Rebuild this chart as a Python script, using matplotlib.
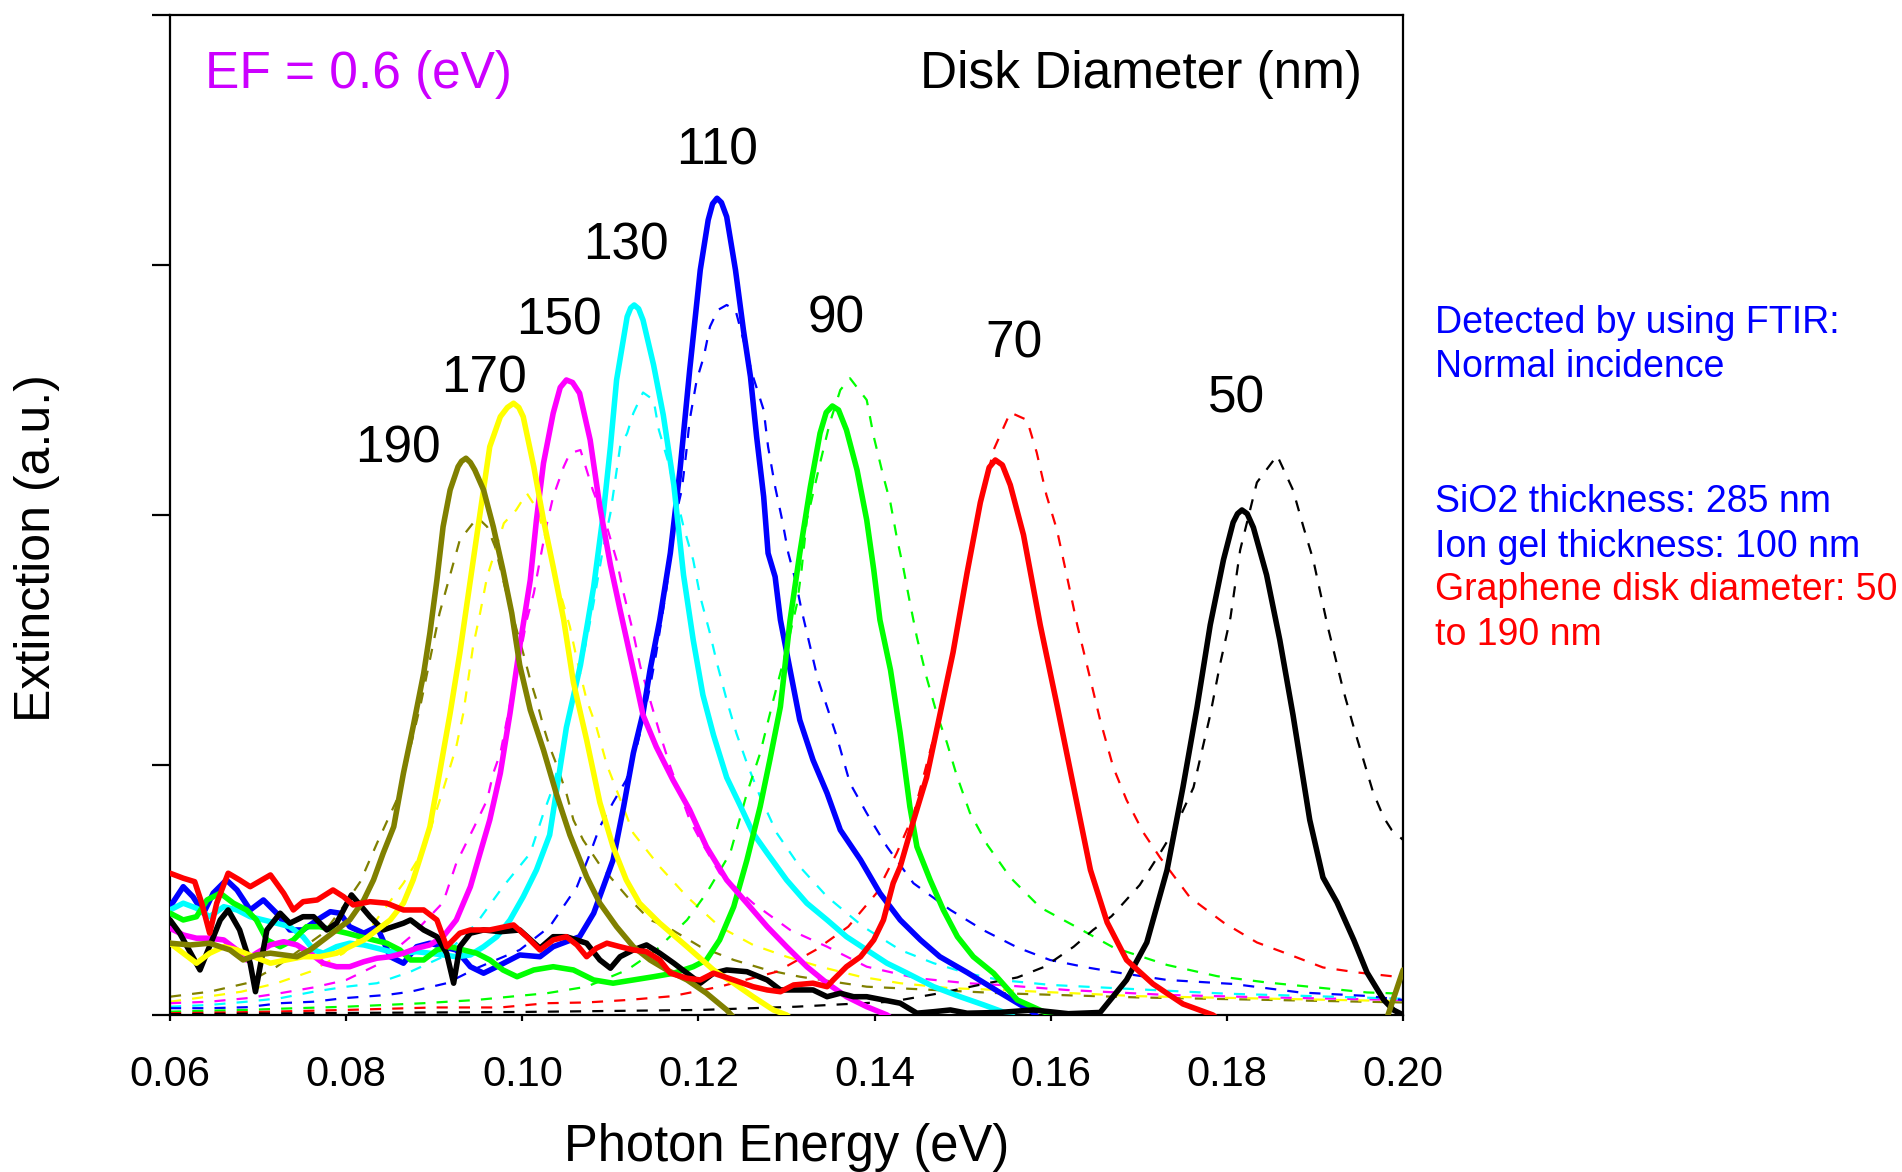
import matplotlib
matplotlib.use("Agg")
import matplotlib.pyplot as plt
import numpy as np

plt.rcParams['font.family'] = ['Liberation Sans', 'DejaVu Sans']

# disk diameters (nm), line colours, label positions (energy, baseline height)
diameters = ['190', '170', '150', '130', '110', '90', '70', '50']
colors = ['#808000', '#FFFF00', '#FF00FF', '#00FFFF', '#0000FF', '#00FF00', '#FF0000', '#000000']
label_e = [0.0859, 0.0957, 0.1042, 0.1118, 0.1221, 0.1356, 0.1558, 0.1811]
label_v = [2.21, 2.49, 2.72, 3.02, 3.40, 2.73, 2.63, 2.41]

# measured spectra (solid)
e_190 = [0.0600, 0.0623, 0.0645, 0.0668, 0.0683, 0.0698, 0.0714, 0.0729, 0.0744, 0.0759, 0.0774, 0.0789, 0.0804, 0.0820, 0.0831, 0.0842, 0.0854, 0.0865, 0.0876, 0.0888, 0.0895, 0.0903, 0.0910, 0.0918, 0.0927, 0.0931, 0.0936, 0.0941, 0.0946, 0.0956, 0.0967, 0.0978, 0.0988, 0.0997, 0.1009, 0.1024, 0.1039, 0.1054, 0.1073, 0.1088, 0.1107, 0.1126, 0.1145, 0.1164, 0.1187, 0.1209, 0.1232, 0.1245, 0.1980, 0.2000]
v_190 = [0.287, 0.280, 0.287, 0.260, 0.220, 0.240, 0.247, 0.240, 0.233, 0.260, 0.300, 0.340, 0.380, 0.460, 0.540, 0.647, 0.753, 0.967, 1.153, 1.367, 1.527, 1.740, 1.953, 2.100, 2.193, 2.215, 2.227, 2.210, 2.180, 2.100, 1.953, 1.780, 1.607, 1.400, 1.220, 1.060, 0.880, 0.720, 0.553, 0.447, 0.353, 0.273, 0.220, 0.180, 0.140, 0.087, 0.020, -0.030, -0.030, 0.180]

e_170 = [0.0600, 0.0615, 0.0630, 0.0645, 0.0661, 0.0676, 0.0695, 0.0714, 0.0732, 0.0751, 0.0770, 0.0789, 0.0804, 0.0820, 0.0835, 0.0850, 0.0865, 0.0876, 0.0888, 0.0895, 0.0906, 0.0918, 0.0929, 0.0941, 0.0952, 0.0963, 0.0975, 0.0983, 0.0990, 0.0996, 0.1001, 0.1013, 0.1024, 0.1035, 0.1047, 0.1058, 0.1073, 0.1088, 0.1103, 0.1118, 0.1133, 0.1156, 0.1187, 0.1217, 0.1240, 0.1262, 0.1285, 0.1300, 0.1310]
v_170 = [0.287, 0.247, 0.207, 0.247, 0.273, 0.260, 0.233, 0.207, 0.220, 0.233, 0.233, 0.247, 0.273, 0.300, 0.340, 0.380, 0.447, 0.540, 0.673, 0.753, 0.967, 1.207, 1.447, 1.740, 2.007, 2.273, 2.393, 2.430, 2.447, 2.430, 2.393, 2.193, 1.980, 1.793, 1.580, 1.330, 1.100, 0.850, 0.673, 0.540, 0.447, 0.367, 0.273, 0.180, 0.127, 0.073, 0.020, 0.000, -0.030]

e_150 = [0.0600, 0.0615, 0.0630, 0.0645, 0.0661, 0.0676, 0.0687, 0.0698, 0.0714, 0.0729, 0.0744, 0.0759, 0.0774, 0.0789, 0.0804, 0.0820, 0.0835, 0.0850, 0.0865, 0.0880, 0.0895, 0.0910, 0.0925, 0.0941, 0.0952, 0.0963, 0.0975, 0.0986, 0.0997, 0.1009, 0.1016, 0.1024, 0.1035, 0.1043, 0.1050, 0.1057, 0.1065, 0.1077, 0.1088, 0.1100, 0.1111, 0.1126, 0.1137, 0.1152, 0.1171, 0.1190, 0.1209, 0.1232, 0.1255, 0.1278, 0.1300, 0.1323, 0.1346, 0.1368, 0.1391, 0.1414, 0.1425]
v_150 = [0.347, 0.320, 0.307, 0.307, 0.300, 0.260, 0.220, 0.247, 0.280, 0.293, 0.280, 0.247, 0.207, 0.193, 0.193, 0.213, 0.227, 0.233, 0.247, 0.267, 0.280, 0.313, 0.380, 0.513, 0.647, 0.780, 0.967, 1.207, 1.473, 1.740, 1.980, 2.207, 2.407, 2.510, 2.540, 2.530, 2.487, 2.300, 2.033, 1.800, 1.620, 1.380, 1.200, 1.073, 0.940, 0.820, 0.673, 0.540, 0.447, 0.353, 0.273, 0.193, 0.127, 0.073, 0.033, 0.000, -0.030]

e_130 = [0.0600, 0.0615, 0.0630, 0.0645, 0.0661, 0.0676, 0.0691, 0.0706, 0.0721, 0.0736, 0.0751, 0.0763, 0.0774, 0.0789, 0.0804, 0.0820, 0.0835, 0.0850, 0.0865, 0.0880, 0.0895, 0.0910, 0.0925, 0.0941, 0.0956, 0.0971, 0.0986, 0.1001, 0.1016, 0.1031, 0.1050, 0.1066, 0.1081, 0.1092, 0.1100, 0.1107, 0.1119, 0.1123, 0.1127, 0.1132, 0.1137, 0.1149, 0.1160, 0.1172, 0.1183, 0.1194, 0.1205, 0.1217, 0.1232, 0.1247, 0.1262, 0.1278, 0.1300, 0.1323, 0.1346, 0.1368, 0.1391, 0.1414, 0.1437, 0.1467, 0.1497, 0.1524, 0.1555, 0.1565]
v_130 = [0.420, 0.447, 0.427, 0.393, 0.433, 0.420, 0.393, 0.380, 0.367, 0.353, 0.313, 0.260, 0.247, 0.273, 0.287, 0.280, 0.267, 0.253, 0.247, 0.253, 0.247, 0.240, 0.233, 0.240, 0.273, 0.313, 0.380, 0.473, 0.580, 0.720, 1.150, 1.400, 1.713, 2.007, 2.273, 2.540, 2.793, 2.828, 2.840, 2.825, 2.780, 2.600, 2.400, 2.120, 1.760, 1.500, 1.280, 1.120, 0.950, 0.840, 0.727, 0.647, 0.540, 0.447, 0.380, 0.313, 0.260, 0.207, 0.167, 0.113, 0.073, 0.040, 0.000, -0.030]

e_110 = [0.0600, 0.0615, 0.0626, 0.0638, 0.0649, 0.0664, 0.0676, 0.0691, 0.0706, 0.0721, 0.0736, 0.0751, 0.0767, 0.0782, 0.0793, 0.0804, 0.0820, 0.0835, 0.0850, 0.0865, 0.0880, 0.0895, 0.0910, 0.0925, 0.0941, 0.0956, 0.0971, 0.0986, 0.0997, 0.1020, 0.1035, 0.1050, 0.1065, 0.1081, 0.1092, 0.1103, 0.1115, 0.1126, 0.1137, 0.1145, 0.1156, 0.1168, 0.1179, 0.1190, 0.1202, 0.1211, 0.1216, 0.1221, 0.1226, 0.1232, 0.1242, 0.1251, 0.1259, 0.1266, 0.1274, 0.1279, 0.1287, 0.1293, 0.1304, 0.1315, 0.1330, 0.1346, 0.1361, 0.1384, 0.1406, 0.1429, 0.1452, 0.1474, 0.1505, 0.1542, 0.1580, 0.1590]
v_110 = [0.433, 0.513, 0.473, 0.407, 0.487, 0.540, 0.500, 0.420, 0.460, 0.407, 0.340, 0.340, 0.380, 0.413, 0.407, 0.353, 0.327, 0.353, 0.233, 0.207, 0.273, 0.287, 0.273, 0.260, 0.193, 0.167, 0.193, 0.220, 0.240, 0.233, 0.273, 0.293, 0.313, 0.407, 0.513, 0.620, 0.833, 1.047, 1.207, 1.380, 1.580, 1.847, 2.180, 2.580, 2.980, 3.180, 3.245, 3.267, 3.250, 3.193, 2.980, 2.740, 2.553, 2.313, 2.073, 1.847, 1.753, 1.580, 1.380, 1.180, 1.020, 0.887, 0.740, 0.620, 0.487, 0.380, 0.300, 0.233, 0.170, 0.090, 0.010, -0.030]

e_90 = [0.0600, 0.0615, 0.0630, 0.0642, 0.0657, 0.0672, 0.0687, 0.0698, 0.0710, 0.0725, 0.0740, 0.0755, 0.0770, 0.0785, 0.0801, 0.0816, 0.0831, 0.0846, 0.0861, 0.0873, 0.0888, 0.0903, 0.0918, 0.0933, 0.0948, 0.0963, 0.0978, 0.0994, 0.1013, 0.1035, 0.1058, 0.1081, 0.1103, 0.1126, 0.1149, 0.1172, 0.1194, 0.1209, 0.1224, 0.1240, 0.1255, 0.1270, 0.1281, 0.1293, 0.1304, 0.1315, 0.1327, 0.1338, 0.1345, 0.1352, 0.1359, 0.1368, 0.1380, 0.1391, 0.1399, 0.1406, 0.1418, 0.1429, 0.1440, 0.1448, 0.1463, 0.1478, 0.1494, 0.1512, 0.1535, 0.1562, 0.1600, 0.1610]
v_90 = [0.407, 0.380, 0.393, 0.460, 0.487, 0.447, 0.420, 0.380, 0.300, 0.273, 0.300, 0.353, 0.353, 0.340, 0.327, 0.313, 0.300, 0.287, 0.260, 0.220, 0.220, 0.260, 0.273, 0.260, 0.247, 0.220, 0.180, 0.153, 0.180, 0.193, 0.180, 0.140, 0.127, 0.140, 0.153, 0.167, 0.193, 0.220, 0.300, 0.433, 0.620, 0.833, 1.020, 1.233, 1.580, 1.847, 2.113, 2.327, 2.410, 2.436, 2.420, 2.340, 2.180, 1.980, 1.780, 1.580, 1.380, 1.127, 0.833, 0.673, 0.540, 0.420, 0.313, 0.233, 0.167, 0.060, 0.000, -0.030]

e_70 = [0.0600, 0.0615, 0.0628, 0.0636, 0.0645, 0.0653, 0.0666, 0.0679, 0.0691, 0.0714, 0.0729, 0.0740, 0.0751, 0.0767, 0.0785, 0.0797, 0.0808, 0.0827, 0.0846, 0.0865, 0.0888, 0.0903, 0.0914, 0.0929, 0.0941, 0.0963, 0.0990, 0.1005, 0.1020, 0.1035, 0.1050, 0.1062, 0.1073, 0.1084, 0.1096, 0.1111, 0.1126, 0.1141, 0.1156, 0.1168, 0.1187, 0.1202, 0.1217, 0.1240, 0.1262, 0.1278, 0.1293, 0.1308, 0.1330, 0.1346, 0.1353, 0.1368, 0.1384, 0.1399, 0.1410, 0.1421, 0.1429, 0.1444, 0.1459, 0.1474, 0.1489, 0.1505, 0.1520, 0.1530, 0.1537, 0.1545, 0.1554, 0.1569, 0.1588, 0.1607, 0.1626, 0.1645, 0.1664, 0.1686, 0.1716, 0.1750, 0.1784, 0.1795]
v_70 = [0.567, 0.547, 0.533, 0.447, 0.327, 0.447, 0.567, 0.540, 0.513, 0.560, 0.487, 0.420, 0.453, 0.460, 0.500, 0.473, 0.440, 0.453, 0.447, 0.420, 0.420, 0.380, 0.273, 0.327, 0.340, 0.340, 0.360, 0.313, 0.260, 0.300, 0.313, 0.280, 0.233, 0.267, 0.287, 0.273, 0.260, 0.253, 0.220, 0.167, 0.147, 0.140, 0.167, 0.140, 0.113, 0.100, 0.093, 0.120, 0.127, 0.113, 0.140, 0.193, 0.233, 0.300, 0.380, 0.527, 0.593, 0.776, 0.950, 1.200, 1.450, 1.770, 2.050, 2.190, 2.220, 2.200, 2.120, 1.920, 1.560, 1.240, 0.910, 0.580, 0.370, 0.220, 0.124, 0.044, 0.000, -0.030]

e_50 = [0.0600, 0.0611, 0.0634, 0.0657, 0.0666, 0.0679, 0.0691, 0.0697, 0.0710, 0.0725, 0.0736, 0.0751, 0.0763, 0.0778, 0.0789, 0.0806, 0.0827, 0.0842, 0.0865, 0.0873, 0.0888, 0.0903, 0.0914, 0.0922, 0.0929, 0.0941, 0.0956, 0.0975, 0.0997, 0.1020, 0.1035, 0.1050, 0.1073, 0.1088, 0.1100, 0.1111, 0.1126, 0.1141, 0.1156, 0.1172, 0.1187, 0.1202, 0.1217, 0.1232, 0.1255, 0.1278, 0.1293, 0.1308, 0.1330, 0.1346, 0.1361, 0.1376, 0.1391, 0.1410, 0.1429, 0.1448, 0.1467, 0.1486, 0.1505, 0.1542, 0.1580, 0.1620, 0.1656, 0.1686, 0.1709, 0.1732, 0.1750, 0.1766, 0.1781, 0.1796, 0.1807, 0.1812, 0.1817, 0.1823, 0.1830, 0.1845, 0.1860, 0.1875, 0.1894, 0.1909, 0.1925, 0.1944, 0.1959, 0.1978, 0.1989, 0.2000]
v_50 = [0.380, 0.327, 0.180, 0.380, 0.420, 0.340, 0.207, 0.093, 0.340, 0.407, 0.367, 0.393, 0.393, 0.340, 0.367, 0.480, 0.393, 0.340, 0.367, 0.380, 0.340, 0.313, 0.247, 0.127, 0.273, 0.327, 0.340, 0.333, 0.340, 0.267, 0.313, 0.313, 0.287, 0.220, 0.187, 0.233, 0.260, 0.280, 0.247, 0.207, 0.167, 0.127, 0.167, 0.180, 0.173, 0.140, 0.100, 0.100, 0.100, 0.073, 0.087, 0.073, 0.073, 0.060, 0.047, 0.007, 0.013, 0.020, 0.007, 0.010, 0.020, 0.005, 0.010, 0.140, 0.290, 0.580, 0.910, 1.230, 1.560, 1.820, 1.970, 2.005, 2.020, 2.005, 1.950, 1.760, 1.500, 1.200, 0.780, 0.550, 0.450, 0.300, 0.170, 0.060, 0.020, 0.000]

# simulated spectra (dashed)
es_190 = [0.0600, 0.0645, 0.0687, 0.0721, 0.0775, 0.0800, 0.0816, 0.0835, 0.0860, 0.0885, 0.0906, 0.0929, 0.0949, 0.0960, 0.0969, 0.0982, 0.1001, 0.1009, 0.1016, 0.1024, 0.1031, 0.1039, 0.1050, 0.1058, 0.1069, 0.1088, 0.1119, 0.1145, 0.1164, 0.1202, 0.1240, 0.1278, 0.1315, 0.1391, 0.1467, 0.1542, 0.1700, 0.1850, 0.2000]
vs_190 = [0.073, 0.093, 0.127, 0.193, 0.330, 0.450, 0.533, 0.687, 0.880, 1.250, 1.607, 1.900, 1.990, 1.953, 1.873, 1.687, 1.447, 1.340, 1.260, 1.153, 1.073, 1.000, 0.887, 0.780, 0.700, 0.600, 0.473, 0.380, 0.353, 0.273, 0.220, 0.180, 0.153, 0.113, 0.100, 0.087, 0.070, 0.060, 0.050]

es_170 = [0.0600, 0.0642, 0.0681, 0.0721, 0.0759, 0.0797, 0.0830, 0.0865, 0.0888, 0.0910, 0.0925, 0.0933, 0.0944, 0.0952, 0.0960, 0.0979, 0.0993, 0.1005, 0.1015, 0.1024, 0.1043, 0.1054, 0.1062, 0.1073, 0.1084, 0.1096, 0.1107, 0.1126, 0.1156, 0.1187, 0.1224, 0.1262, 0.1300, 0.1338, 0.1384, 0.1429, 0.1486, 0.1542, 0.1700, 0.1850, 0.2000]
vs_170 = [0.053, 0.073, 0.093, 0.127, 0.173, 0.247, 0.360, 0.527, 0.660, 0.900, 1.073, 1.207, 1.473, 1.607, 1.753, 1.967, 2.020, 2.087, 2.033, 1.940, 1.687, 1.553, 1.420, 1.260, 1.153, 1.000, 0.900, 0.727, 0.593, 0.473, 0.353, 0.280, 0.233, 0.193, 0.153, 0.127, 0.107, 0.100, 0.075, 0.065, 0.055]

es_150 = [0.0600, 0.0645, 0.0687, 0.0725, 0.0763, 0.0800, 0.0835, 0.0873, 0.0910, 0.0925, 0.0945, 0.0960, 0.0967, 0.0975, 0.0990, 0.0997, 0.1005, 0.1013, 0.1020, 0.1028, 0.1035, 0.1047, 0.1054, 0.1066, 0.1080, 0.1096, 0.1107, 0.1115, 0.1126, 0.1134, 0.1145, 0.1156, 0.1168, 0.1179, 0.1190, 0.1202, 0.1224, 0.1262, 0.1304, 0.1346, 0.1391, 0.1448, 0.1505, 0.1542, 0.1618, 0.1732, 0.1850, 0.2000]
vs_150 = [0.047, 0.053, 0.067, 0.087, 0.110, 0.140, 0.200, 0.313, 0.450, 0.607, 0.750, 0.860, 0.967, 1.047, 1.313, 1.433, 1.580, 1.687, 1.820, 1.967, 2.073, 2.193, 2.247, 2.260, 2.100, 1.953, 1.820, 1.687, 1.527, 1.393, 1.260, 1.127, 0.993, 0.887, 0.780, 0.700, 0.567, 0.447, 0.340, 0.273, 0.193, 0.147, 0.127, 0.120, 0.100, 0.080, 0.070, 0.060]

es_130 = [0.0600, 0.0645, 0.0687, 0.0725, 0.0763, 0.0800, 0.0835, 0.0873, 0.0910, 0.0948, 0.0978, 0.1009, 0.1024, 0.1035, 0.1043, 0.1050, 0.1058, 0.1066, 0.1073, 0.1081, 0.1092, 0.1100, 0.1111, 0.1119, 0.1126, 0.1137, 0.1149, 0.1155, 0.1165, 0.1175, 0.1183, 0.1194, 0.1202, 0.1213, 0.1221, 0.1232, 0.1243, 0.1255, 0.1270, 0.1289, 0.1315, 0.1346, 0.1387, 0.1429, 0.1467, 0.1505, 0.1542, 0.1600, 0.1800, 0.2000]
vs_130 = [0.033, 0.040, 0.053, 0.067, 0.093, 0.113, 0.127, 0.173, 0.233, 0.367, 0.513, 0.647, 0.807, 0.913, 1.033, 1.140, 1.260, 1.393, 1.500, 1.650, 1.873, 2.007, 2.273, 2.327, 2.407, 2.490, 2.460, 2.340, 2.220, 2.073, 1.953, 1.820, 1.673, 1.527, 1.407, 1.260, 1.127, 1.007, 0.873, 0.727, 0.593, 0.473, 0.353, 0.260, 0.207, 0.167, 0.140, 0.120, 0.085, 0.065]

es_110 = [0.0600, 0.0645, 0.0687, 0.0725, 0.0763, 0.0797, 0.0846, 0.0873, 0.0914, 0.0950, 0.0997, 0.1031, 0.1062, 0.1077, 0.1088, 0.1103, 0.1118, 0.1130, 0.1137, 0.1145, 0.1152, 0.1158, 0.1164, 0.1168, 0.1173, 0.1181, 0.1186, 0.1190, 0.1198, 0.1206, 0.1213, 0.1222, 0.1232, 0.1242, 0.1262, 0.1274, 0.1279, 0.1287, 0.1295, 0.1302, 0.1310, 0.1317, 0.1335, 0.1357, 0.1372, 0.1391, 0.1414, 0.1444, 0.1486, 0.1523, 0.1562, 0.1599, 0.1641, 0.1675, 0.1732, 0.1807, 0.1883, 0.1959, 0.2000]
vs_110 = [0.027, 0.027, 0.031, 0.047, 0.053, 0.067, 0.080, 0.093, 0.127, 0.190, 0.260, 0.353, 0.513, 0.647, 0.753, 0.850, 0.940, 1.073, 1.180, 1.313, 1.447, 1.580, 1.713, 1.847, 1.980, 2.100, 2.247, 2.380, 2.540, 2.633, 2.753, 2.820, 2.840, 2.820, 2.553, 2.420, 2.273, 2.113, 1.980, 1.847, 1.740, 1.620, 1.350, 1.113, 0.927, 0.807, 0.673, 0.527, 0.420, 0.340, 0.270, 0.220, 0.190, 0.170, 0.140, 0.124, 0.090, 0.076, 0.060]

es_90 = [0.0600, 0.0645, 0.0687, 0.0725, 0.0800, 0.0888, 0.0948, 0.0986, 0.1028, 0.1073, 0.1119, 0.1152, 0.1187, 0.1209, 0.1236, 0.1255, 0.1270, 0.1285, 0.1299, 0.1312, 0.1317, 0.1323, 0.1331, 0.1338, 0.1349, 0.1361, 0.1372, 0.1391, 0.1399, 0.1410, 0.1418, 0.1425, 0.1433, 0.1440, 0.1448, 0.1459, 0.1471, 0.1482, 0.1493, 0.1508, 0.1528, 0.1554, 0.1588, 0.1630, 0.1671, 0.1732, 0.1789, 0.1845, 0.1902, 0.1959, 0.2000]
vs_90 = [0.013, 0.017, 0.020, 0.025, 0.033, 0.047, 0.060, 0.073, 0.087, 0.113, 0.180, 0.260, 0.380, 0.487, 0.647, 0.887, 1.047, 1.260, 1.450, 1.647, 1.780, 1.980, 2.100, 2.207, 2.367, 2.500, 2.547, 2.460, 2.313, 2.153, 2.047, 1.913, 1.780, 1.650, 1.510, 1.350, 1.200, 1.090, 0.960, 0.810, 0.680, 0.550, 0.430, 0.350, 0.270, 0.200, 0.155, 0.130, 0.110, 0.090, 0.085]

es_70 = [0.0600, 0.0645, 0.0700, 0.0800, 0.0900, 0.0975, 0.1028, 0.1073, 0.1120, 0.1170, 0.1224, 0.1289, 0.1333, 0.1370, 0.1402, 0.1425, 0.1444, 0.1470, 0.1495, 0.1516, 0.1535, 0.1554, 0.1573, 0.1584, 0.1595, 0.1607, 0.1618, 0.1630, 0.1641, 0.1656, 0.1671, 0.1686, 0.1705, 0.1724, 0.1758, 0.1796, 0.1834, 0.1872, 0.1909, 0.1948, 0.2000]
vs_70 = [0.007, 0.009, 0.012, 0.020, 0.030, 0.030, 0.047, 0.050, 0.060, 0.075, 0.113, 0.173, 0.260, 0.353, 0.487, 0.647, 0.800, 1.150, 1.550, 1.980, 2.260, 2.410, 2.380, 2.250, 2.080, 1.940, 1.760, 1.560, 1.400, 1.180, 0.990, 0.860, 0.730, 0.630, 0.470, 0.370, 0.290, 0.240, 0.190, 0.170, 0.150]

es_50 = [0.0600, 0.0800, 0.1000, 0.1202, 0.1311, 0.1419, 0.1474, 0.1528, 0.1562, 0.1593, 0.1626, 0.1648, 0.1669, 0.1701, 0.1724, 0.1740, 0.1762, 0.1781, 0.1792, 0.1804, 0.1815, 0.1834, 0.1857, 0.1875, 0.1887, 0.1898, 0.1906, 0.1914, 0.1923, 0.1932, 0.1944, 0.1955, 0.1966, 0.1978, 0.1987, 0.2000]
vs_50 = [0.003, 0.008, 0.012, 0.020, 0.033, 0.053, 0.087, 0.127, 0.150, 0.193, 0.273, 0.340, 0.395, 0.520, 0.647, 0.740, 0.910, 1.200, 1.400, 1.590, 1.860, 2.130, 2.238, 2.100, 1.950, 1.820, 1.690, 1.560, 1.430, 1.300, 1.150, 1.020, 0.890, 0.790, 0.740, 0.700]

measured = [(e_190, v_190), (e_170, v_170), (e_150, v_150), (e_130, v_130),
            (e_110, v_110), (e_90, v_90), (e_70, v_70), (e_50, v_50)]
simulated = [(es_190, vs_190), (es_170, vs_170), (es_150, vs_150), (es_130, vs_130),
             (es_110, vs_110), (es_90, vs_90), (es_70, vs_70), (es_50, vs_50)]

fig = plt.figure(figsize=(19.02, 11.72), dpi=100)
ax = fig.add_axes([0.0894, 0.134, 0.6483, 0.8532])

# dashed simulations underneath
for (x, y), c in zip(simulated, colors):
    ax.plot(x, y, color=c, lw=1.6, linestyle=(0, (5, 5)), zorder=2)

# measured spectra on top
for i in [4, 3, 5, 2, 7, 1, 0, 6]:
    x, y = measured[i]
    ax.plot(x, y, color=colors[i], lw=4.0, zorder=3,
            solid_joinstyle='round', solid_capstyle='round')

for d, xe, yv in zip(diameters, label_e, label_v):
    ax.text(xe, yv, d, fontsize=37, ha='center', va='baseline', zorder=5)

ax.text(0.0284, 0.927, 'EF = 0.6 (eV)', transform=ax.transAxes, fontsize=37,
        color='#CC00FF', ha='left', va='baseline')
ax.text(0.9667, 0.927, 'Disk Diameter (nm)', transform=ax.transAxes, fontsize=37,
        ha='right', va='baseline')

ax.set_xlim(0.06, 0.20)
ax.set_ylim(0, 4)
ax.set_xticks(np.arange(0.06, 0.2001, 0.02))
ax.set_xticklabels(['%.2f' % t for t in np.arange(0.06, 0.2001, 0.02)])
ax.set_yticks([0, 1, 2, 3, 4])
ax.set_yticklabels([])
ax.tick_params(axis='x', direction='out', length=4, width=1.6, pad=25, labelsize=30)
ax.tick_params(axis='y', direction='out', length=13, width=1.6)
for sp in ax.spines.values():
    sp.set_linewidth(1.6)

fig.text(0.4135, 0.0208, 'Photon Energy (eV)', fontsize=36.5, ha='center', va='center')
fig.text(0.0195, 0.5324, 'Extinction (a.u.)', fontsize=36, ha='center', va='center',
         rotation=90)

# notes on the right
notes = [('Detected by using FTIR:', '#0000FF', 0.7159),
         ('Normal incidence', '#0000FF', 0.6783),
         ('SiO2 thickness: 285 nm', '#0000FF', 0.5631),
         ('Ion gel thickness: 100 nm', '#0000FF', 0.5247),
         ('Graphene disk diameter: 50', '#FF0000', 0.4881),
         ('to 190 nm', '#FF0000', 0.4497)]
for txt, c, yy in notes:
    fig.text(0.7545, yy, txt, fontsize=27, color=c, ha='left', va='baseline')

fig.savefig('out.png', dpi=100)
